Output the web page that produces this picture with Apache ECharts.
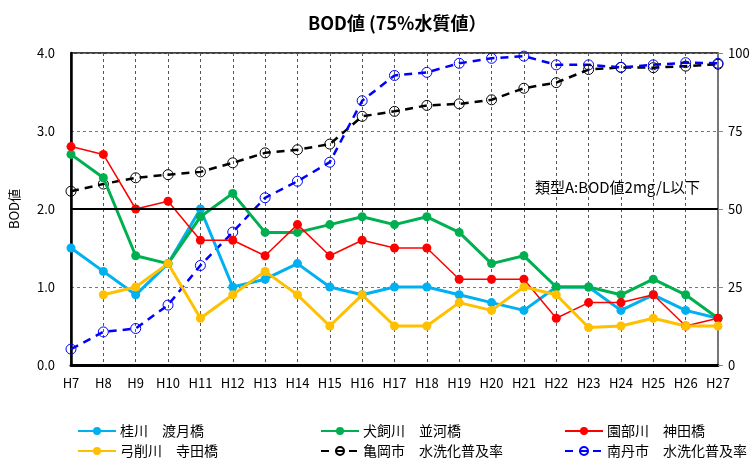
<!DOCTYPE html>
<html>
<head>
<meta charset="utf-8">
<script src="https://cdn.jsdelivr.net/npm/echarts@6/dist/echarts.min.js"></script>
<style>
html,body{margin:0;padding:0;background:#fff;}
#main{width:755px;height:458px;}
</style>
</head>
<body>
<div id="main"></div>
<script>
// 年度
var years = ['H7','H8','H9','H10','H11','H12','H13','H14','H15','H16','H17','H18','H19','H20','H21','H22','H23','H24','H25','H26','H27'];
// BOD値 (mg/L)
var katsura = [1.5,1.2,0.9,1.3,2.0,1.0,1.1,1.3,1.0,0.9,1.0,1.0,0.9,0.8,0.7,1.0,1.0,0.7,0.9,0.7,0.6];
var inukai = [2.7,2.4,1.4,1.3,1.9,2.2,1.7,1.7,1.8,1.9,1.8,1.9,1.7,1.3,1.4,1.0,1.0,0.9,1.1,0.9,0.6];
var sonobe = [2.8,2.7,2.0,2.1,1.6,1.6,1.4,1.8,1.4,1.6,1.5,1.5,1.1,1.1,1.1,0.6,0.8,0.8,0.9,0.5,0.6];
var yuge = [null,0.9,1.0,1.3,0.6,0.9,1.2,0.9,0.5,0.9,0.5,0.5,0.8,0.7,1.0,0.9,0.48,0.5,0.6,0.5,0.5];
// 水洗化普及率 (%)
var kameoka = [55.7,58.0,60.0,61.0,61.9,64.8,68.0,69.0,70.8,79.7,81.3,83.2,83.7,85.0,88.7,90.5,94.7,95.4,95.3,95.8,96.4];
var nantan = [5.1,10.6,11.7,19.2,31.9,42.6,53.6,58.9,65.0,84.7,92.8,93.8,96.7,98.3,99.0,96.2,96.2,95.4,96.2,96.9,96.7];

var FONT = '"Noto Sans CJK JP","Noto Sans",sans-serif';

function solidLine(name,data,color,width){
	return {
		name:name,type:'line',data:data,yAxisIndex:0,
		symbol:'circle',symbolSize:9,
		lineStyle:{color:color,width:width},
		itemStyle:{color:color},
		z:3
	};
}
function dashLine(name,data,color){
	return {
		name:name,type:'line',data:data,yAxisIndex:1,
		symbol:'circle',symbolSize:10,
		lineStyle:{color:color,width:2.5,type:[8,6]},
		itemStyle:{color:'rgba(255,255,255,0)',borderColor:color,borderWidth:1},
		z:2
	};
}

var chart = echarts.init(document.getElementById('main'));

//凡例 (3列×2行)
var legendPos = [
	['桂川　渡月橋',77,424],['犬飼川　並河橋',320,424],['園部川　神田橋',564,424],
	['弓削川　寺田橋',77,444],['亀岡市　水洗化普及率',320,444],['南丹市　水洗化普及率',564,444]
];
var legends = [];
for (var i=0;i<legendPos.length;i++) {
	legends.push({
		data:[legendPos[i][0]],left:legendPos[i][1],top:legendPos[i][2],
		orient:'horizontal',itemWidth:38,itemHeight:10,padding:0,
		textStyle:{fontFamily:FONT,fontSize:14,color:'#000',padding:[0,0,0,-1]}
	});
}

var series = [
	solidLine('桂川　渡月橋',katsura,'#00B0F0',3),
	solidLine('犬飼川　並河橋',inukai,'#00B050',3),
	solidLine('園部川　神田橋',sonobe,'#FF0000',1.5),
	solidLine('弓削川　寺田橋',yuge,'#FFC000',3),
	dashLine('亀岡市　水洗化普及率',kameoka,'#000000'),
	dashLine('南丹市　水洗化普及率',nantan,'#0000FF')
];
// 基準線 2.0
series[0].markLine = {
	silent:true,symbol:'none',label:{show:false},
	lineStyle:{color:'#000',width:2,type:'solid'},
	data:[{yAxis:2.0}]
};

var option = {
	animation:false,
	backgroundColor:'#fff',
	title:{
		text:'BOD値 (75%水質値）',left:303,top:9,
		textStyle:{fontFamily:FONT,fontSize:18,fontWeight:'bold',color:'#000'}
	},
	grid:{left:70,right:37,top:53,bottom:93,show:true,borderColor:'#000',borderWidth:1.5},
	legend:legends,
	xAxis:{
		type:'category',data:years,boundaryGap:false,
		axisLine:{lineStyle:{color:'#000',width:3}},
		axisTick:{show:false},
		axisLabel:{fontFamily:FONT,fontSize:13,color:'#000',margin:12},
		splitLine:{show:true,lineStyle:{color:'#555',type:[3,3],width:1}}
	},
	yAxis:[
		{
			type:'value',min:0,max:4,interval:1,
			name:'BOD値',nameLocation:'middle',nameGap:50,nameRotate:90,
			nameTextStyle:{fontFamily:FONT,fontSize:13,color:'#000'},
			axisLine:{show:true,lineStyle:{color:'#000',width:2.5}},
			axisTick:{show:false},
			axisLabel:{fontFamily:FONT,fontSize:13,color:'#000',margin:16,
				formatter:function(v){return v.toFixed(1);}},
			splitLine:{show:true,lineStyle:{color:'#777',type:[3,3],width:1}}
		},
		{
			type:'value',min:0,max:100,interval:25,position:'right',
			axisLine:{show:true,lineStyle:{color:'#888',width:1.5}},
			axisTick:{show:true,length:5,lineStyle:{color:'#888'}},
			axisLabel:{fontFamily:FONT,fontSize:13,color:'#000',margin:10},
			splitLine:{show:false}
		}
	],
	graphic:[{
		type:'text',left:535,top:180,
		style:{text:'類型A:BOD値2mg/L以下',fontFamily:FONT,fontSize:15,fill:'#000'}
	}],
	series:series
};
chart.setOption(option);
</script>
</body>
</html>
